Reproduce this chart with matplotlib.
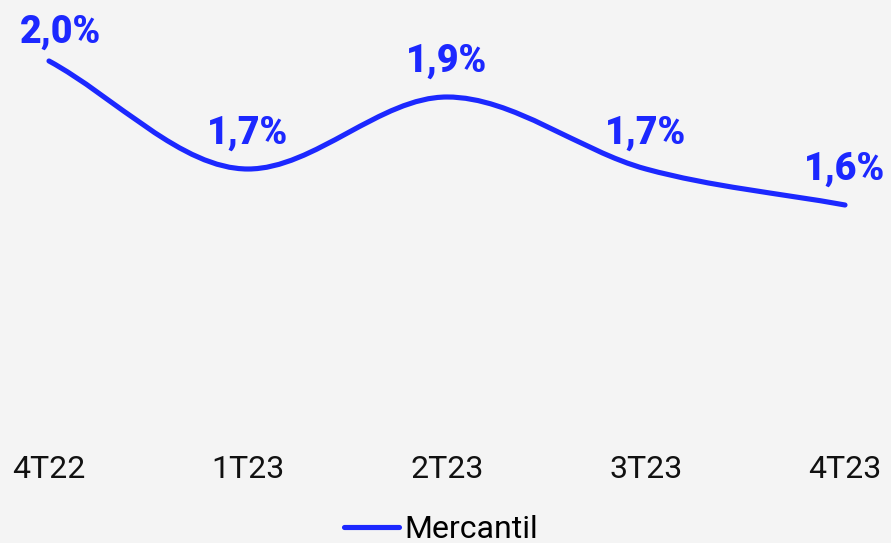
import matplotlib
matplotlib.use("Agg")
import matplotlib.pyplot as plt
from matplotlib.path import Path
from matplotlib.patches import PathPatch
from matplotlib.lines import Line2D
import numpy as np

quarters = ["4T22", "1T23", "2T23", "3T23", "4T23"]
mercantil = [2.0, 1.7, 1.9, 1.7, 1.6]
value_labels = ["2,0%", "1,7%", "1,9%", "1,7%", "1,6%"]

BLUE = "#1c28ff"
BG = "#f4f4f4"

plt.rcParams["font.family"] = ["Roboto", "DejaVu Sans"]

W, H = 891, 543
fig = plt.figure(figsize=(W / 100, H / 100), dpi=100, facecolor=BG)
# axes spans full width, from top of figure down to y=445 px
ax = fig.add_axes([0, 1 - 445 / H, 1, 445 / H], facecolor=BG)

x = np.arange(len(quarters), dtype=float)
y = np.array(mercantil)

# monotone cubic tangents (smoothed line like the source chart)
d = np.diff(y) / np.diff(x)
m = np.empty_like(y)
m[0], m[-1] = d[0], d[-1]
for k in range(1, len(y) - 1):
    m[k] = 0.0 if d[k - 1] * d[k] <= 0 else (d[k - 1] + d[k]) / 2

verts = [(x[0], y[0])]
codes = [Path.MOVETO]
for k in range(len(x) - 1):
    h = x[k + 1] - x[k]
    verts += [(x[k] + h / 3, y[k] + m[k] * h / 3),
              (x[k + 1] - h / 3, y[k + 1] - m[k + 1] * h / 3),
              (x[k + 1], y[k + 1])]
    codes += [Path.CURVE4] * 3
ax.add_patch(PathPatch(Path(verts, codes), fill=False, edgecolor=BLUE,
                       lw=3.7, capstyle="round", joinstyle="round"))

for i, (xi, yi, lab) in enumerate(zip(x, y, value_labels)):
    dx, dy = (8, 13) if i == 0 else (0, 18)
    ax.annotate(lab, (xi, yi), xytext=(dx, dy), textcoords="offset points",
                ha="center", va="baseline", fontsize=27, fontweight="black",
                color=BLUE, annotation_clip=False)

ax.set_xlim(-49 / 199, (W - 49) / 199)
ax.set_ylim(2.0 - (445 - 61) / 360, 2.0 + 61 / 360)
ax.set_xticks(x)
ax.set_xticklabels(quarters, fontsize=23, color="#111111")
ax.set_yticks([])
ax.tick_params(axis="x", length=0, pad=7)
for s in ax.spines.values():
    s.set_visible(False)

handle = Line2D([], [], color=BLUE, lw=3.7, solid_capstyle="round")
fig.legend([handle], ["Mercantil"], loc="center",
           bbox_to_anchor=(441 / W, 1 - 530 / H), frameon=False,
           fontsize=23, handlelength=1.72, handletextpad=0.16,
           borderpad=0, borderaxespad=0)

fig.savefig("out.png", dpi=100, facecolor=BG)
